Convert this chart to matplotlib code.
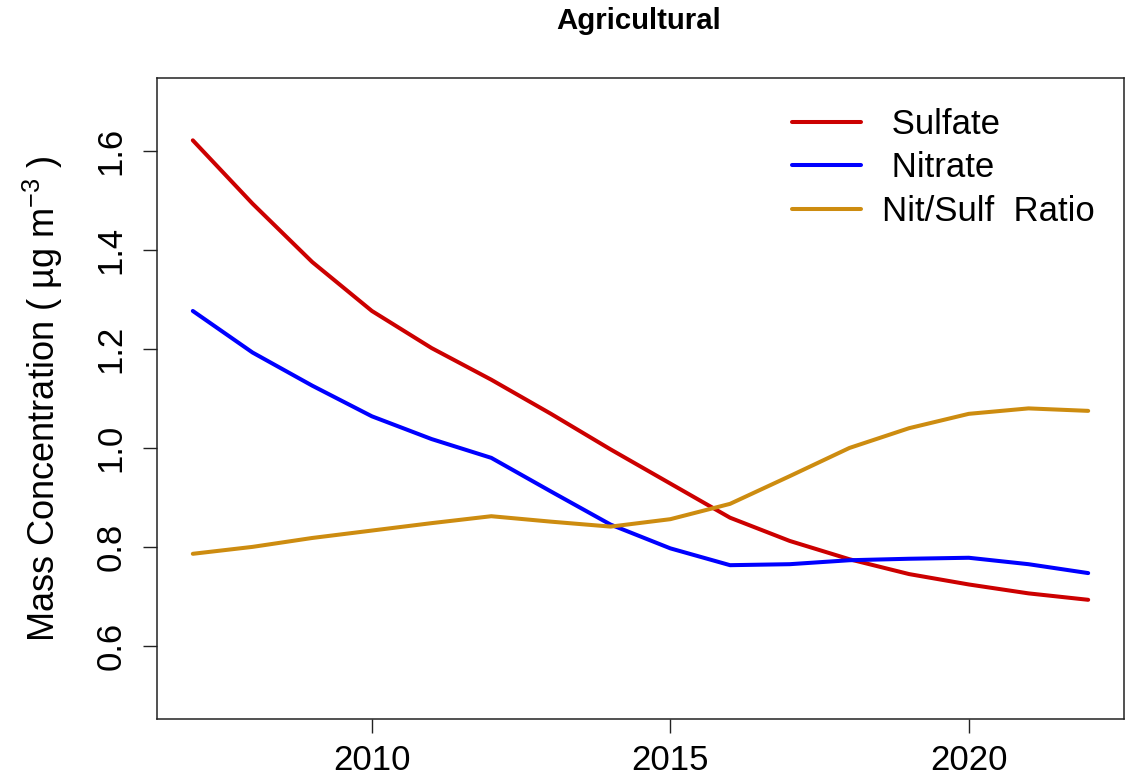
import matplotlib
matplotlib.use("Agg")
import matplotlib.pyplot as plt

plt.rcParams['font.family'] = ['Liberation Sans', 'DejaVu Sans']
plt.rcParams['mathtext.fontset'] = 'custom'
plt.rcParams['mathtext.rm'] = 'Liberation Sans'
plt.rcParams['mathtext.default'] = 'regular'

# Annual mean concentrations at agricultural sites
years = [2007, 2008, 2009, 2010, 2011, 2012, 2013, 2014,
         2015, 2016, 2017, 2018, 2019, 2020, 2021, 2022]
sulfate = [1.622, 1.494, 1.376, 1.277, 1.202, 1.138, 1.069, 0.997,
           0.928, 0.859, 0.812, 0.775, 0.745, 0.724, 0.706, 0.693]
nitrate = [1.277, 1.193, 1.126, 1.064, 1.018, 0.980, 0.912, 0.845,
           0.797, 0.763, 0.765, 0.773, 0.776, 0.778, 0.765, 0.747]
ratio = [0.786, 0.800, 0.818, 0.833, 0.848, 0.862, 0.851, 0.841,
         0.856, 0.887, 0.943, 1.000, 1.040, 1.069, 1.080, 1.075]

series_labels = [' Sulfate', ' Nitrate', 'Nit/Sulf  Ratio']
series_colors = ['#CC0000', '#0000FF', '#CD8C10']
x_ticks = [2010, 2015, 2020]
y_ticks = [0.6, 0.8, 1.0, 1.2, 1.4, 1.6]

W, H = 1132, 778
fig = plt.figure(figsize=(W / 100, H / 100), dpi=100)
ax = fig.add_axes([157 / W, 1 - 719 / H, (1124 - 157) / W, (719 - 78) / H])

for vals, lab, col in zip([sulfate, nitrate, ratio], series_labels, series_colors):
    ax.plot(years, vals, color=col, lw=2.9, label=lab,
            solid_capstyle='round', solid_joinstyle='round')

ax.set_xlim(2006.4, 2022.6)
ax.set_ylim(0.452, 1.748)
ax.set_xticks(x_ticks)
ax.set_yticks(y_ticks)
ax.set_yticklabels([f'{v:.1f}' for v in y_ticks])

for s in ax.spines.values():
    s.set_linewidth(1.1)
    s.set_color('#222222')

ax.tick_params(axis='both', direction='out', length=10, width=1.0,
               color='#222222', labelsize=25)
ax.tick_params(axis='x', pad=8)
ax.tick_params(axis='y', pad=11, labelrotation=90)
for lbl in ax.get_yticklabels():
    lbl.set_va('center')

ax.set_ylabel('Mass Concentration ( µg m$^{-3}$ )', fontsize=26)
ax.yaxis.set_label_coords(-0.095, 0.5)

fig.text(639 / W, 1 - 29.3 / H, 'Agricultural', ha='center', va='baseline',
         fontsize=21.2, fontweight='bold')

ax.legend(loc='upper left', bbox_to_anchor=(792 / W, 1 - 108 / H),
          bbox_transform=fig.transFigure, frameon=False, fontsize=25,
          handlelength=2.0, handletextpad=0.6, labelspacing=0.3,
          borderpad=0, borderaxespad=0)

fig.savefig('out.png', dpi=100)
